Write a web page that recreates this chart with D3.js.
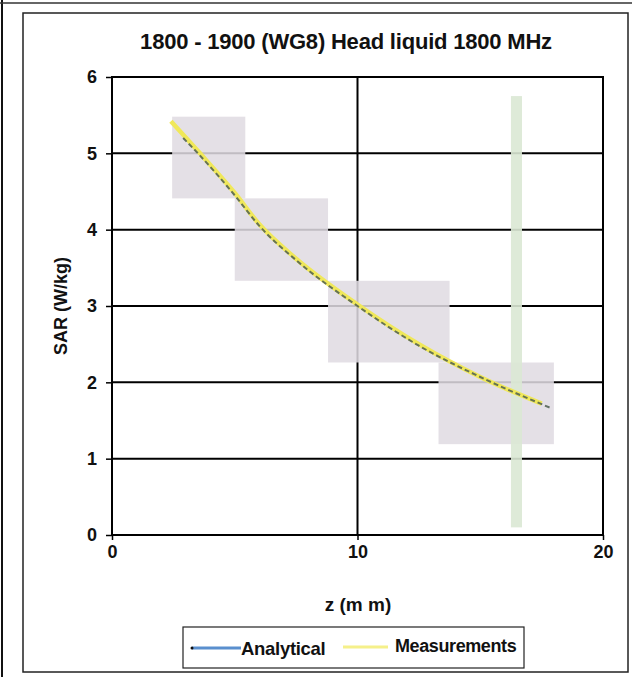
<!DOCTYPE html>
<html><head><meta charset="utf-8">
<script src="https://cdn.jsdelivr.net/npm/d3@7"></script>
<style>body{margin:0;background:#fff}svg{display:block}text{font-family:"Liberation Sans",Arial,sans-serif;font-weight:bold;fill:#111}</style>
</head><body><div id="c"></div>
<script>
const title = "1800 - 1900 (WG8) Head liquid 1800 MHz";
const xLabel = "z (m m)";
const yLabel = "SAR (W/kg)";
const xTicks = [0, 10, 20];
const yTicks = [0, 1, 2, 3, 4, 5, 6];
const seriesNames = ["Analytical", "Measurements"];
const analyticalZ = [2.9, 3.5, 5.0, 6.0, 7.5, 10.0, 12.5, 15.0, 17.9];
const analyticalSAR = [5.2, 5.0, 4.45, 4.05, 3.6, 3.0, 2.48, 2.07, 1.66];
const measZ = [2.4, 3.5, 5.0, 6.0, 7.5, 10.0, 12.5, 15.0, 17.5];
const measSAR = [5.42, 5.03, 4.48, 4.07, 3.62, 3.02, 2.5, 2.07, 1.72];
// scan artifacts (data units): [z0, z1, sar0, sar1]
const grayPatches = [[2.45,5.43,5.48,4.41],[5.0,8.8,4.41,3.33],[8.8,13.75,3.33,2.26],[13.3,18.0,2.26,1.19]];
const greenBand = [[16.25,16.7,5.75,0.1]];

const W = 632, H = 677;
const svg = d3.select("#c").append("svg").attr("width", W).attr("height", H);
const L = 112, R = 603, T = 77, B = 535;
const x = d3.scaleLinear().domain([0, 20]).range([L, R]);
const y = d3.scaleLinear().domain([0, 6]).range([B, T]);

// frames
svg.append("line").attr("x1",2).attr("y1",0).attr("x2",2).attr("y2",H).attr("stroke","#111").attr("stroke-width",2);
svg.append("line").attr("x1",0).attr("y1",3).attr("x2",W).attr("y2",3).attr("stroke","#333").attr("stroke-width",1.5);
svg.append("rect").attr("x",23).attr("y",13).attr("width",605).attr("height",659).attr("fill","none").attr("stroke","#222").attr("stroke-width",1.5);

svg.append("text").attr("x",346).attr("y",49).attr("text-anchor","middle").attr("font-size",22).attr("letter-spacing",-0.2).text(title);

// grid
const g = svg.append("g");
g.selectAll(".hg").data(yTicks).join("line").attr("x1",L).attr("x2",R).attr("y1",d=>y(d)).attr("y2",d=>y(d)).attr("stroke","#000").attr("stroke-width",2);
g.selectAll(".vg").data(xTicks).join("line").attr("y1",T).attr("y2",B).attr("x1",d=>x(d)).attr("x2",d=>x(d)).attr("stroke","#000").attr("stroke-width",2);
g.append("rect").attr("x",L).attr("y",T).attr("width",R-L).attr("height",B-T).attr("fill","none").attr("stroke","#000").attr("stroke-width",2);

// artifacts
svg.selectAll(".gp").data(grayPatches).join("rect")
  .attr("x",d=>x(d[0])).attr("width",d=>x(d[1])-x(d[0]))
  .attr("y",d=>y(d[2])).attr("height",d=>y(d[3])-y(d[2]))
  .attr("fill","rgb(224,219,226)").attr("opacity",0.86);
svg.selectAll(".gb").data(greenBand).join("rect")
  .attr("x",d=>x(d[0])).attr("width",d=>x(d[1])-x(d[0]))
  .attr("y",d=>y(d[2])).attr("height",d=>y(d[3])-y(d[2]))
  .attr("fill","rgb(218,232,212)").attr("opacity",0.9);

// axes ticks
const ya = d3.axisLeft(y).tickValues(yTicks).tickSize(6).tickFormat(d3.format("d"));
const ga = svg.append("g").attr("transform",`translate(${L},0)`).call(ya);
ga.select(".domain").remove();
ga.selectAll("line").attr("stroke","#000").attr("stroke-width",1.5);
ga.selectAll("text").attr("font-size",18).attr("dx",-6).attr("fill","#111");
const xa = d3.axisBottom(x).tickValues(xTicks).tickSize(5).tickFormat(d3.format("d"));
const gx = svg.append("g").attr("transform",`translate(0,${B})`).call(xa);
gx.select(".domain").remove();
gx.selectAll("line").attr("stroke","#000").attr("stroke-width",1.5);
gx.selectAll("text").attr("font-size",18).attr("dy",15).attr("fill","#111");

svg.append("text").attr("x",358).attr("y",611).attr("text-anchor","middle").attr("font-size",19).text(xLabel);
svg.append("text").attr("transform","translate(67,306) rotate(-90)").attr("text-anchor","middle").attr("font-size",18).text(yLabel);

// lines
const line = d3.line().curve(d3.curveMonotoneX);
const meas = measZ.map((z,i)=>[x(z), y(measSAR[i])]);
const ana = analyticalZ.map((z,i)=>[x(z), y(analyticalSAR[i])]);
svg.append("path").attr("d",line(meas)).attr("fill","none").attr("stroke","#f0e85a").attr("stroke-width",4.5);
svg.append("path").attr("d",line(ana)).attr("fill","none").attr("stroke","#4e5e50").attr("stroke-width",2).attr("stroke-dasharray","5,3").attr("opacity",0.85);

// legend
const lg = svg.append("g");
lg.append("rect").attr("x",183).attr("y",627).attr("width",341).attr("height",41).attr("fill","#fff").attr("stroke","#222").attr("stroke-width",1.2);
lg.append("line").attr("x1",192).attr("x2",241).attr("y1",648).attr("y2",648).attr("stroke","#5a8fce").attr("stroke-width",3);
lg.append("circle").attr("cx",192).attr("cy",648).attr("r",1.5).attr("fill","#111");
lg.append("text").attr("x",241).attr("y",655).attr("font-size",18.5).attr("letter-spacing",-0.3).text(seriesNames[0]);
lg.append("line").attr("x1",343).attr("x2",388).attr("y1",647).attr("y2",647).attr("stroke","#f5f08a").attr("stroke-width",3);
lg.append("text").attr("x",395).attr("y",652).attr("font-size",18).attr("letter-spacing",-0.4).text(seriesNames[1]);
</script></body></html>
